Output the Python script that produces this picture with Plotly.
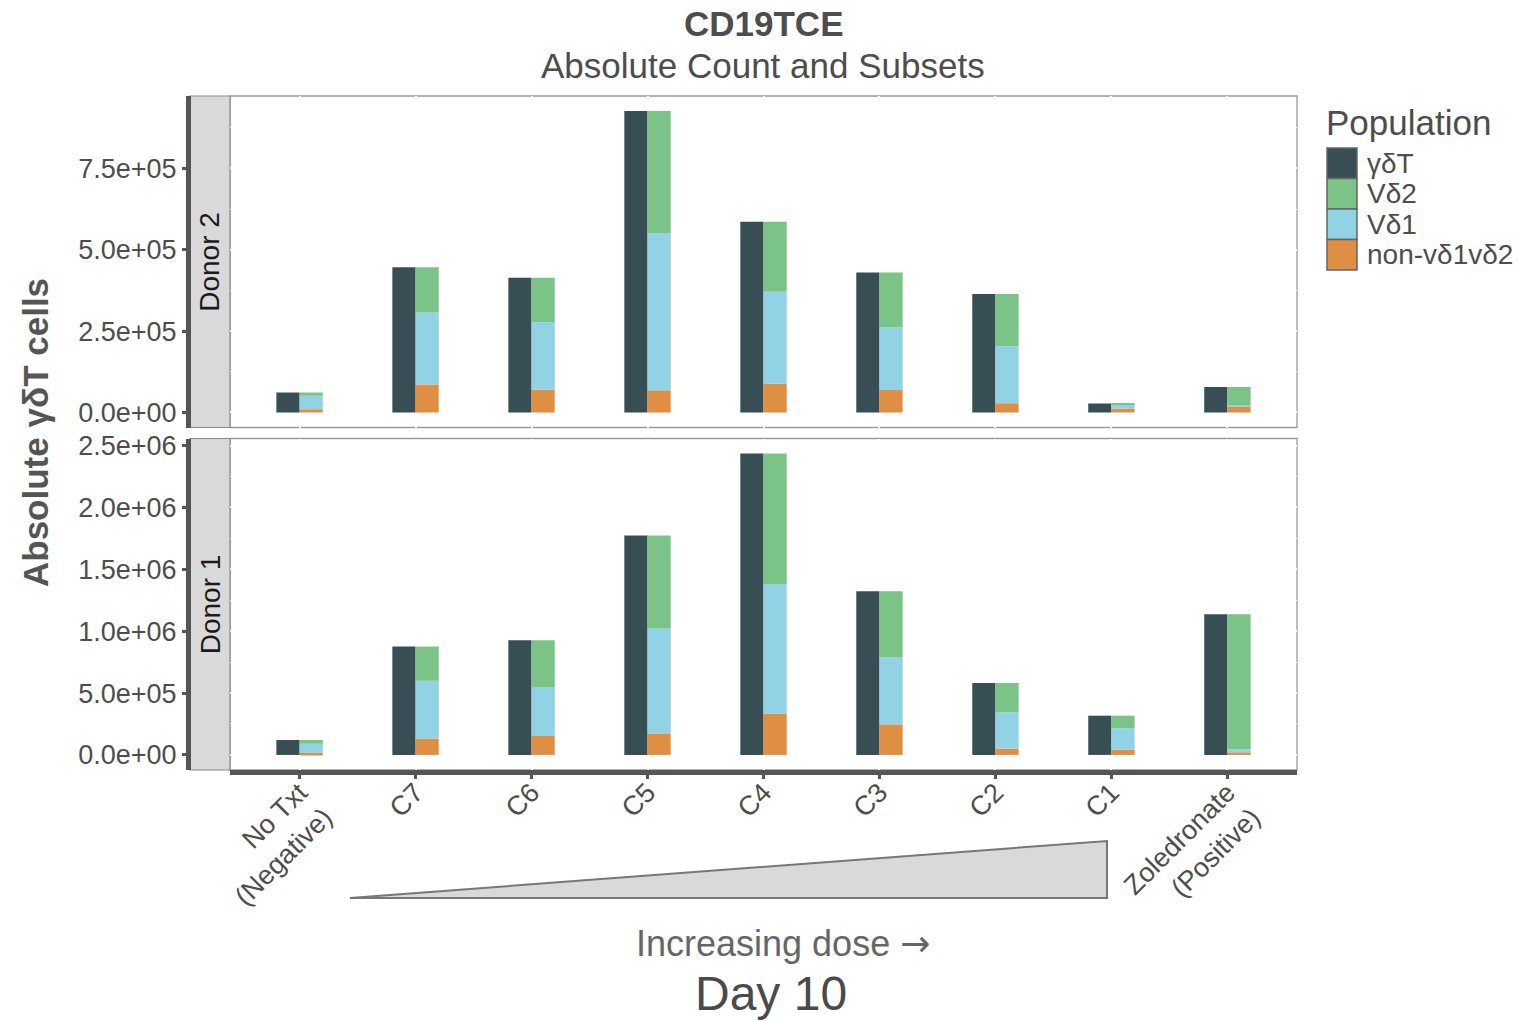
import plotly.graph_objects as go

W, H = 1519, 1020

# ---- data -------------------------------------------------------------
categories = ["No Txt<br>(Negative)", "C7", "C6", "C5", "C4", "C3", "C2", "C1",
              "Zoledronate<br>(Positive)"]

# Donor 2 (upper panel)
d2_total = [6.1e4, 4.46e5, 4.14e5, 9.26e5, 5.86e5, 4.30e5, 3.64e5, 2.75e4, 7.8e4]
d2_vd2 = [1.0e4, 1.39e5, 1.37e5, 3.76e5, 2.15e5, 1.68e5, 1.61e5, 3.0e3, 5.5e4]
d2_vd1 = [4.1e4, 2.21e5, 2.07e5, 4.82e5, 2.83e5, 1.93e5, 1.75e5, 1.35e4, 6.0e3]
d2_non = [1.0e4, 8.6e4, 7.0e4, 6.8e4, 8.8e4, 6.9e4, 2.8e4, 1.1e4, 1.7e4]

# Donor 1 (lower panel)
d1_total = [1.21e5, 8.76e5, 9.27e5, 1.774e6, 2.435e6, 1.323e6, 5.81e5, 3.17e5, 1.137e6]
d1_vd2 = [3.0e4, 2.77e5, 3.82e5, 7.53e5, 1.056e6, 5.36e5, 2.37e5, 1.02e5, 1.094e6]
d1_vd1 = [7.5e4, 4.68e5, 3.92e5, 8.47e5, 1.046e6, 5.40e5, 2.93e5, 1.72e5, 2.2e4]
d1_non = [1.6e4, 1.31e5, 1.53e5, 1.74e5, 3.33e5, 2.47e5, 5.1e4, 4.3e4, 2.1e4]

d2_ticks = [0, 2.5e5, 5.0e5, 7.5e5]
d2_ticktext = ["0.0e+00", "2.5e+05", "5.0e+05", "7.5e+05"]
d1_ticks = [0, 5.0e5, 1.0e6, 1.5e6, 2.0e6, 2.5e6]
d1_ticktext = ["0.0e+00", "5.0e+05", "1.0e+06", "1.5e+06", "2.0e+06", "2.5e+06"]

populations = ["γδT", "Vδ2", "Vδ1", "non-vδ1vδ2"]
pop_colors = ["#374E55", "#7BC387", "#91D2E4", "#DF8F44"]

FONT = "Liberation Sans, Arial, Helvetica, sans-serif"
TXT = "#4D4D4D"


def px(x):
    return x / W


def py(y):
    return 1 - y / H


fig = go.Figure()


def add_panel(total, vd2, vd1, non, xa, ya):
    fig.add_trace(go.Bar(x=categories, y=total, offset=-0.2, width=0.2,
                         marker=dict(color=pop_colors[0], line=dict(width=0)),
                         xaxis=xa, yaxis=ya, showlegend=False, name=populations[0]))
    base1 = [a for a in non]
    base2 = [a + b for a, b in zip(non, vd1)]
    fig.add_trace(go.Bar(x=categories, y=non, base=[0] * len(non), offset=0, width=0.2,
                         marker=dict(color=pop_colors[3], line=dict(width=0)),
                         xaxis=xa, yaxis=ya, showlegend=False, name=populations[3]))
    fig.add_trace(go.Bar(x=categories, y=vd1, base=base1, offset=0, width=0.2,
                         marker=dict(color=pop_colors[2], line=dict(width=0)),
                         xaxis=xa, yaxis=ya, showlegend=False, name=populations[2]))
    fig.add_trace(go.Bar(x=categories, y=vd2, base=base2, offset=0, width=0.2,
                         marker=dict(color=pop_colors[1], line=dict(width=0)),
                         xaxis=xa, yaxis=ya, showlegend=False, name=populations[1]))


add_panel(d2_total, d2_vd2, d2_vd1, d2_non, "x", "y")
add_panel(d1_total, d1_vd2, d1_vd1, d1_non, "x2", "y2")

# panel geometry (pixels)
PX0, PX1 = 230, 1297
TOP = (96, 427.5)
BOT = (438.5, 770)


def yrange(vals):
    m = max(vals)
    return [-0.05 * m, 1.05 * m]


def midpoints(ticks):
    step = ticks[1] - ticks[0]
    return [t + step / 2 for t in ticks] + [ticks[0] - step / 2]


grid = dict(showgrid=True, gridcolor="white", gridwidth=1.5, zeroline=False,
            automargin=False)
tickfont = dict(size=27, color=TXT, family=FONT)
fig.update_layout(
    template="none",
    barmode="overlay",
    width=W, height=H,
    autosize=False,
    margin=dict(l=0, r=0, t=0, b=0, pad=0),
    paper_bgcolor="white", plot_bgcolor="rgba(0,0,0,0)",
    font=dict(family=FONT, color=TXT),
    showlegend=False,
    xaxis=dict(domain=[px(PX0), px(PX1)], anchor="y", range=[-0.6, 8.6],
               categoryorder="array", categoryarray=categories,
               showticklabels=False, ticks="", showline=False, **grid),
    xaxis2=dict(domain=[px(PX0), px(PX1)], anchor="y2", range=[-0.6, 8.6],
                categoryorder="array", categoryarray=categories, matches="x",
                showline=True, linewidth=5, linecolor="#555555",
                ticks="outside", ticklen=4, tickwidth=3, tickcolor="#555555",
                tickangle=-45, tickfont=tickfont, ticklabelstandoff=-13, **grid),
    yaxis=dict(domain=[py(TOP[1]), py(TOP[0])], anchor="free", position=px(188),
               range=yrange(d2_total), tickvals=d2_ticks, ticktext=d2_ticktext,
               minor=dict(tickmode="array", tickvals=midpoints(d2_ticks),
                          showgrid=True, gridcolor="white", gridwidth=1.2, ticks=""),
               showline=True, linewidth=5, linecolor="#555555",
               ticks="outside", ticklen=4, tickwidth=3, tickcolor="#555555",
               tickfont=tickfont, **grid),
    yaxis2=dict(domain=[py(BOT[1]), py(BOT[0])], anchor="free", position=px(188),
                range=yrange(d1_total), tickvals=d1_ticks, ticktext=d1_ticktext,
                minor=dict(tickmode="array", tickvals=midpoints(d1_ticks),
                           showgrid=True, gridcolor="white", gridwidth=1.2, ticks=""),
                showline=True, linewidth=5, linecolor="#555555",
                ticks="outside", ticklen=4, tickwidth=3, tickcolor="#555555",
                tickfont=tickfont, **grid),
)

shapes = []
annotations = []

# panel borders and facet strips
for (y0, y1), label in [(TOP, "Donor 2"), (BOT, "Donor 1")]:
    shapes.append(dict(type="rect", xref="paper", yref="paper",
                       x0=px(PX0), x1=px(PX1), y0=py(y1), y1=py(y0),
                       line=dict(color="#9A9A9A", width=1.3), fillcolor="white",
                       layer="below"))
    shapes.append(dict(type="rect", xref="paper", yref="paper",
                       x0=px(190), x1=px(PX0), y0=py(y1), y1=py(y0),
                       line=dict(color="#8A8A8A", width=1.2), fillcolor="#D9D9D9",
                       layer="below"))
    annotations.append(dict(text=label, xref="paper", yref="paper",
                            x=px(210), y=py((y0 + y1) / 2), showarrow=False,
                            textangle=-90, xanchor="center", yanchor="middle",
                            font=dict(size=28, color="#1A1A1A", family=FONT)))

# dose ramp wedge
shapes.append(dict(type="path", xref="paper", yref="paper",
                   path=f"M {px(350)},{py(898)} L {px(1107)},{py(898)} "
                        f"L {px(1107)},{py(841)} Z",
                   fillcolor="#D9D9D9", line=dict(color="#777777", width=2)))

# legend drawn as keys + labels
annotations.append(dict(text="Population", xref="paper", yref="paper",
                        x=px(1324), y=py(122), xanchor="left", yanchor="middle",
                        showarrow=False, font=dict(size=35, color=TXT, family=FONT)))
key_top = 148
key_h = 30.5
for i, (name, col) in enumerate(zip(populations, pop_colors)):
    y0 = key_top + i * key_h
    shapes.append(dict(type="rect", xref="paper", yref="paper",
                       x0=px(1327), x1=px(1357), y0=py(y0 + key_h), y1=py(y0),
                       fillcolor=col, line=dict(color="#666666", width=1.5)))
    annotations.append(dict(text=name, xref="paper", yref="paper",
                            x=px(1365), y=py(y0 + key_h / 2), xanchor="left",
                            yanchor="middle", showarrow=False,
                            font=dict(size=28, color=TXT, family=FONT)))

# titles
annotations += [
    dict(text="<b>CD19TCE</b>", xref="paper", yref="paper", x=px(763), y=py(23),
         showarrow=False, xanchor="center", yanchor="middle",
         font=dict(size=35, color=TXT, family=FONT)),
    dict(text="Absolute Count and Subsets", xref="paper", yref="paper",
         x=px(763), y=py(66), showarrow=False, xanchor="center", yanchor="middle",
         font=dict(size=35, color=TXT, family=FONT)),
    dict(text="<b>Absolute γδT cells</b>", xref="paper", yref="paper",
         x=px(35), y=py(433), showarrow=False, textangle=-90,
         xanchor="center", yanchor="middle",
         font=dict(size=35, color="#555555", family=FONT)),
    dict(text='Increasing dose <span style="font-family:DejaVu Sans">→</span>',
         xref="paper", yref="paper",
         x=px(783), y=py(943), showarrow=False, xanchor="center", yanchor="middle",
         font=dict(size=36, color="#666666", family=FONT)),
    dict(text="Day 10", xref="paper", yref="paper",
         x=px(771), y=py(993), showarrow=False, xanchor="center", yanchor="middle",
         font=dict(size=48, color="#4A4A4A", family=FONT)),
]

fig.update_layout(shapes=shapes, annotations=annotations)

fig.write_html("out.html",
               post_script="document.body.style.margin='0';document.body.style.overflow='hidden';")
